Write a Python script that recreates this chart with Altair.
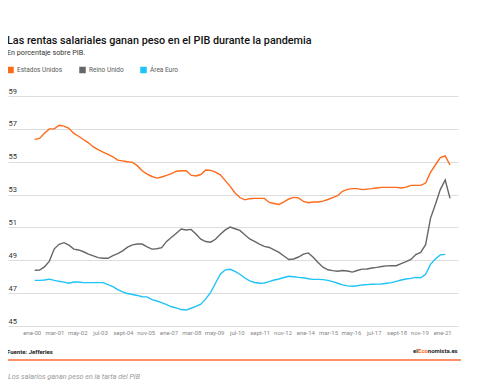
import altair as alt
import pandas as pd

# Quarterly observations, Q1 2000 - Q2 2021
dates = [f"{2000 + i // 4}-{(i % 4) * 3 + 1:02d}-01" for i in range(86)]

us_values = [
    56.36, 56.42, 56.73, 57.0, 57.0, 57.22, 57.17, 57.03, 56.72, 56.55,
    56.35, 56.15, 55.9, 55.73, 55.58, 55.45, 55.3, 55.1, 55.05, 55.0,
    54.96, 54.76, 54.45, 54.25, 54.1, 54.0, 54.07, 54.17, 54.27, 54.42,
    54.45, 54.45, 54.18, 54.13, 54.22, 54.5, 54.47, 54.37, 54.2, 53.85,
    53.5, 53.1, 52.82, 52.68, 52.75, 52.77, 52.77, 52.77, 52.52, 52.46,
    52.4, 52.55, 52.73, 52.83, 52.8, 52.58, 52.5, 52.55, 52.55, 52.6,
    52.7, 52.82, 52.93, 53.2, 53.32, 53.36, 53.36, 53.3, 53.33, 53.36,
    53.4, 53.44, 53.44, 53.44, 53.44, 53.4, 53.45, 53.56, 53.56, 53.56,
    53.7, 54.35, 54.8, 55.25, 55.35, 54.8,
]
uk_values = [
    48.39, 48.4, 48.6, 48.95, 49.7, 49.97, 50.07, 49.92, 49.68, 49.63,
    49.52, 49.38, 49.27, 49.16, 49.12, 49.12, 49.28, 49.4, 49.57, 49.8,
    49.94, 49.99, 49.99, 49.82, 49.68, 49.7, 49.77, 50.15, 50.4, 50.65,
    50.9, 50.84, 50.88, 50.6, 50.28, 50.14, 50.1, 50.28, 50.58, 50.85,
    51.02, 50.92, 50.82, 50.55, 50.3, 50.15, 49.98, 49.85, 49.78, 49.63,
    49.48, 49.26, 49.05, 49.08, 49.2, 49.38, 49.45, 49.18, 48.86, 48.58,
    48.42, 48.37, 48.33, 48.38, 48.35, 48.28, 48.38, 48.46, 48.47, 48.53,
    48.57, 48.62, 48.66, 48.67, 48.67, 48.8, 48.92, 49.05, 49.35, 49.48,
    49.95, 51.55, 52.4, 53.3, 53.89, 52.77,
]
euro_values = [
    47.78, 47.78, 47.8, 47.85, 47.78, 47.72, 47.67, 47.6, 47.68, 47.68,
    47.64, 47.64, 47.64, 47.64, 47.64, 47.52, 47.4, 47.22, 47.08, 46.98,
    46.92, 46.86, 46.78, 46.77, 46.6, 46.52, 46.42, 46.3, 46.17, 46.1,
    46.0, 45.97, 46.08, 46.2, 46.33, 46.65, 47.05, 47.6, 48.15, 48.42,
    48.45, 48.32, 48.15, 47.92, 47.75, 47.65, 47.6, 47.62, 47.7, 47.8,
    47.86, 47.95, 48.03, 48.0, 47.96, 47.94, 47.88, 47.84, 47.84, 47.82,
    47.78, 47.7, 47.6, 47.5, 47.44, 47.42, 47.45, 47.5, 47.52, 47.54,
    47.55, 47.56, 47.6, 47.64, 47.72, 47.8, 47.86, 47.9, 47.96, 47.94,
    48.15, 48.75, 49.08, 49.33, 49.36,
]

series_names = ["Estados Unidos", "Reino Unido", "Área Euro"]
series_colors = ["#ff6a1a", "#666666", "#1ec3f7"]

tick_dates = ["2000-01", "2001-03", "2002-05", "2003-07", "2004-09", "2005-11",
              "2007-01", "2008-03", "2009-05", "2010-07", "2011-09", "2012-11",
              "2014-01", "2015-03", "2016-05", "2017-07", "2018-09", "2019-11",
              "2021-01"]
tick_labels = ["ene-00", "mar-01", "may-02", "jul-03", "sept-04", "nov-05",
               "ene-07", "mar-08", "may-09", "jul-10", "sept-11", "nov-12",
               "ene-14", "mar-15", "may-16", "jul-17", "sept-18", "nov-19",
               "ene-21"]
y_ticks = [45, 47, 49, 51, 53, 55, 57, 59]

title_text = "Las rentas salariales ganan peso en el PIB durante la pandemia"
subtitle_text = "En porcentaje sobre PIB."
source_text = "Fuente: Jefferies"
caption_text = "Los salarios ganan peso en la tarta del PIB"
brand_parts = ["el", "Eco", "nomista.es"]

rows = []
for name, vals in zip(series_names, [us_values, uk_values, euro_values]):
    for d, v in zip(dates, vals):
        rows.append({"fecha": d, "valor": v, "serie": name})
df = pd.DataFrame(rows)

stamps = [int(pd.Timestamp(t + "-01", tz="UTC").value // 10**6) for t in tick_dates]
tick_values = [alt.DateTime(year=int(t[:4]), month=int(t[5:]), date=1, utc=True) for t in tick_dates]
label_expr = f"{tick_labels}[indexof({stamps}, time(datum.value))]"

FONT = "Roboto"
W, H = 450, 230

lines = alt.Chart(df).mark_line(strokeWidth=1.4).encode(
    x=alt.X("fecha:T",
            scale=alt.Scale(type="utc",
                            domain=[alt.DateTime(year=1998, month=8, date=20, utc=True),
                                    alt.DateTime(year=2021, month=8, date=28, utc=True)]),
            axis=alt.Axis(values=tick_values, labelExpr=label_expr, title=None,
                          domain=False, ticks=False, grid=False, labelFontSize=6,
                          labelColor="#888888", labelFont=FONT, labelPadding=3.5,
                          labelOffset=-3, labelBaseline="top", labelOverlap=False)),
    y=alt.Y("valor:Q", scale=alt.Scale(domain=[45, 59], nice=False, zero=False),
            axis=alt.Axis(values=y_ticks, title=None, domain=False, ticks=False,
                          tickSize=0, grid=True, gridColor="#dddddd", gridWidth=1,
                          labelAlign="left", labelBaseline="alphabetic",
                          labelPadding=0, labelOffset=-3, labelFontSize=7.5,
                          labelColor="#333333", labelFont=FONT)),
    color=alt.Color("serie:N",
                    scale=alt.Scale(domain=series_names, range=series_colors),
                    sort=series_names,
                    legend=alt.Legend(title=None, orient="none", direction="horizontal",
                                      legendX=-1, legendY=-29.5, symbolType="square",
                                      symbolSize=1, symbolStrokeWidth=5.5,
                                      labelFontSize=6.5, labelFont=FONT,
                                      labelColor="#5a5a5a", labelOffset=3,
                                      columnPadding=8)),
)


def text_layer(txt, x, y, size, color, weight="normal", style="normal", align="left"):
    return alt.Chart(pd.DataFrame({"t": [txt]})).mark_text(
        align=align, baseline="alphabetic", fontSize=size, font=FONT,
        fontWeight=weight, fontStyle=style, color=color,
    ).encode(text="t:N", x=alt.value(x), y=alt.value(y))


title = text_layer(title_text, -1, -51.7, 10.8, "#111111", weight=500)
subtitle = text_layer(subtitle_text, -1, -40.8, 7.2, "#333333")
source = text_layer(source_text, -1, 258, 6, "#222222", weight="bold")
brand1 = text_layer(brand_parts[0], 409.9, 257, 6, "#222222", weight="bold", align="right")
brand2 = text_layer(brand_parts[1], 419.9, 257, 6, "#ff6a1a", weight="bold", align="right")
brand3 = text_layer(brand_parts[2], 449.7, 257, 6, "#222222", weight="bold", align="right")
caption = text_layer(caption_text, 0, 283, 7.2, "#999999", style="italic")

rule = alt.Chart(pd.DataFrame({"k": [0]})).mark_rule(
    color="#ff6a3a", strokeWidth=1.5
).encode(x=alt.value(0), x2=alt.value(453), y=alt.value(264))

chart = alt.layer(
    lines, title, subtitle, source, brand1, brand2, brand3, rule, caption
).properties(
    width=W, height=H,
    autosize=alt.AutoSizeParams(type="none"),
    padding={"left": 0, "top": 88, "right": 3, "bottom": 57},
    background="white",
).configure_view(stroke=None)

chart.save("out.html", embed_options={"renderer": "svg", "actions": False})
